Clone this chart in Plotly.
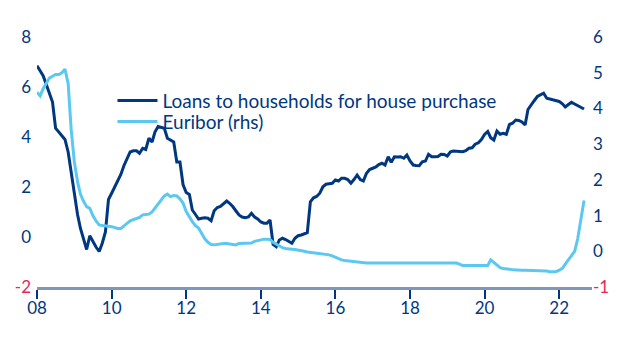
import pandas as pd
import plotly.graph_objects as go

# Monthly data, Jan 2008 - Sep 2022
start_month = "2008-01-01"

loans = [
    6.85, 6.65, 6.45, 6.10, 5.75, 5.40, 4.35, 4.20, 4.05, 3.90, 3.40, 2.60,   # 2008
    1.60, 0.90, 0.35, -0.05, -0.50, 0.05, -0.20, -0.40, -0.58, -0.25, 0.20, 1.50,  # 2009
    1.75, 2.00, 2.25, 2.50, 2.85, 3.10, 3.40, 3.45, 3.45, 3.35, 3.55, 3.50,   # 2010
    3.95, 3.80, 4.20, 4.42, 4.40, 4.35, 3.95, 3.88, 3.80, 3.00, 3.00, 2.10,   # 2011
    1.78, 1.70, 1.08, 0.90, 0.72, 0.75, 0.77, 0.75, 0.65, 1.05, 1.18, 1.22,   # 2012
    1.35, 1.44, 1.35, 1.22, 1.05, 0.88, 0.80, 0.77, 0.80, 0.95, 0.80, 0.72,   # 2013
    0.60, 0.55, 0.55, 0.68, -0.30, -0.39, -0.12, -0.05, -0.10, -0.16, -0.25, -0.05,  # 2014
    0.05, 0.08, 0.12, 0.17, 1.41, 1.57, 1.62, 1.75, 2.01, 2.11, 2.13, 2.15,   # 2015
    2.28, 2.24, 2.35, 2.35, 2.30, 2.15, 2.30, 2.48, 2.30, 2.24, 2.55, 2.70,   # 2016
    2.75, 2.80, 2.90, 2.95, 2.88, 3.21, 2.99, 3.21, 3.20, 3.21, 3.15, 3.28,   # 2017
    3.04, 2.88, 2.86, 2.85, 3.01, 3.04, 3.31, 3.21, 3.21, 3.22, 3.31, 3.30,   # 2018
    3.24, 3.41, 3.44, 3.43, 3.41, 3.41, 3.45, 3.55, 3.57, 3.71, 3.77, 3.90,   # 2019
    4.10, 4.22, 3.97, 3.88, 4.24, 4.11, 4.15, 4.11, 4.50, 4.55, 4.68, 4.66,   # 2020
    4.60, 4.48, 5.10, 5.30, 5.45, 5.62, 5.68, 5.75, 5.55, 5.52, 5.48, 5.44,   # 2021
    5.42, 5.33, 5.20, 5.30, 5.39, 5.32, 5.25, 5.18, 5.12,                     # 2022
]

euribor = [
    4.45, 4.35, 4.55, 4.70, 4.85, 4.90, 4.95, 4.95, 5.00, 5.10, 4.70, 3.40,   # 2008
    2.50, 1.95, 1.60, 1.40, 1.25, 1.20, 1.00, 0.85, 0.74, 0.72, 0.72, 0.70,   # 2009
    0.69, 0.66, 0.64, 0.64, 0.70, 0.78, 0.85, 0.88, 0.90, 0.95, 1.02, 1.03,   # 2010
    1.04, 1.10, 1.20, 1.32, 1.44, 1.55, 1.60, 1.53, 1.56, 1.55, 1.47, 1.35,   # 2011
    1.11, 0.95, 0.83, 0.72, 0.65, 0.50, 0.35, 0.25, 0.19, 0.18, 0.20, 0.22,   # 2012
    0.22, 0.22, 0.21, 0.20, 0.18, 0.22, 0.22, 0.22, 0.22, 0.23, 0.28, 0.30,   # 2013
    0.33, 0.34, 0.34, 0.33, 0.25, 0.20, 0.13, 0.10, 0.08, 0.08, 0.06, 0.05,   # 2014
    0.04, 0.02, 0.00, -0.02, -0.03, -0.04, -0.05, -0.06, -0.07, -0.09, -0.10, -0.13,  # 2015
    -0.17, -0.21, -0.24, -0.26, -0.27, -0.29, -0.30, -0.31, -0.31, -0.32, -0.33, -0.33,  # 2016
    -0.33, -0.33, -0.33, -0.33, -0.33, -0.33, -0.33, -0.33, -0.33, -0.33, -0.33, -0.33,  # 2017
    -0.33, -0.33, -0.33, -0.33, -0.33, -0.33, -0.33, -0.33, -0.33, -0.33, -0.33, -0.33,  # 2018
    -0.33, -0.33, -0.33, -0.33, -0.36, -0.40, -0.40, -0.40, -0.40, -0.40, -0.40, -0.40,  # 2019
    -0.40, -0.40, -0.24, -0.32, -0.40, -0.46, -0.48, -0.48, -0.50, -0.52, -0.53, -0.53,  # 2020
    -0.53, -0.53, -0.53, -0.53, -0.53, -0.53, -0.53, -0.53, -0.55, -0.57, -0.58, -0.57,  # 2021
    -0.53, -0.48, -0.36, -0.25, -0.12, 0.00, 0.35, 0.85, 1.42,                       # 2022
]

dates = pd.date_range(start_month, periods=len(loans), freq="MS")

x_tick_years = [2008, 2010, 2012, 2014, 2016, 2018, 2020, 2022]
x_tick_labels = ["08", "10", "12", "14", "16", "18", "20", "22"]
left_ticks = [-2, 0, 2, 4, 6, 8]
right_ticks = [-1, 0, 1, 2, 3, 4, 5, 6]

NAVY = "#003781"
LIGHT = "#5bc8f2"
RED = "#e8285a"
FONT = "Lato"


def fmt(v):
    s = str(v)
    if v == left_ticks[0] or v == right_ticks[0]:
        return f"<span style='color:{RED}'>{s}</span>"
    return s


fig = go.Figure()
fig.add_trace(go.Scatter(
    x=dates, y=loans, mode="lines", name="Loans to households for house purchase",
    line=dict(color=NAVY, width=3), yaxis="y", legend="legend",
))
fig.add_trace(go.Scatter(
    x=dates, y=euribor, mode="lines", name="Euribor (rhs)",
    line=dict(color=LIGHT, width=3), yaxis="y2", legend="legend2",
))

legend_common = dict(
    xanchor="left", yanchor="middle",
    bgcolor="rgba(0,0,0,0)", font=dict(size=19, color=NAVY, family=FONT),
    itemwidth=40,
)

fig.update_layout(
    width=623, height=340,
    margin=dict(l=37, r=31, t=37, b=53),
    paper_bgcolor="white", plot_bgcolor="white",
    font=dict(family=FONT, color=NAVY, size=17),
    showlegend=True,
    legend=dict(x=0.136, y=0.745, **legend_common),
    legend2=dict(x=0.136, y=0.661, **legend_common),
    xaxis=dict(
        type="date",
        range=["2008-01-01", "2022-11-18"],
        tickvals=[f"{y}-01-01" for y in x_tick_years],
        ticktext=x_tick_labels,
        showgrid=False, zeroline=False,
        showline=True, linecolor="#7f97ba", linewidth=2.5,
        ticks="outside", ticklen=9, tickwidth=1.5, tickcolor=NAVY,
        tickfont=dict(size=17, color=NAVY),
        ticklabelstandoff=-5,
    ),
    yaxis=dict(
        range=[-2, 8],
        tickvals=left_ticks, ticktext=[fmt(v) for v in left_ticks],
        showgrid=False, zeroline=False, showline=False, ticks="",
        tickfont=dict(size=17, color=NAVY),
        ticklabelstandoff=5,
    ),
    yaxis2=dict(
        range=[-1, 6], overlaying="y", side="right",
        tickvals=right_ticks, ticktext=[fmt(v) for v in right_ticks],
        showgrid=False, zeroline=False, showline=False, ticks="",
        tickfont=dict(size=17, color=NAVY),
        ticklabelstandoff=0,
    ),
)

fig.write_html("out.html")
